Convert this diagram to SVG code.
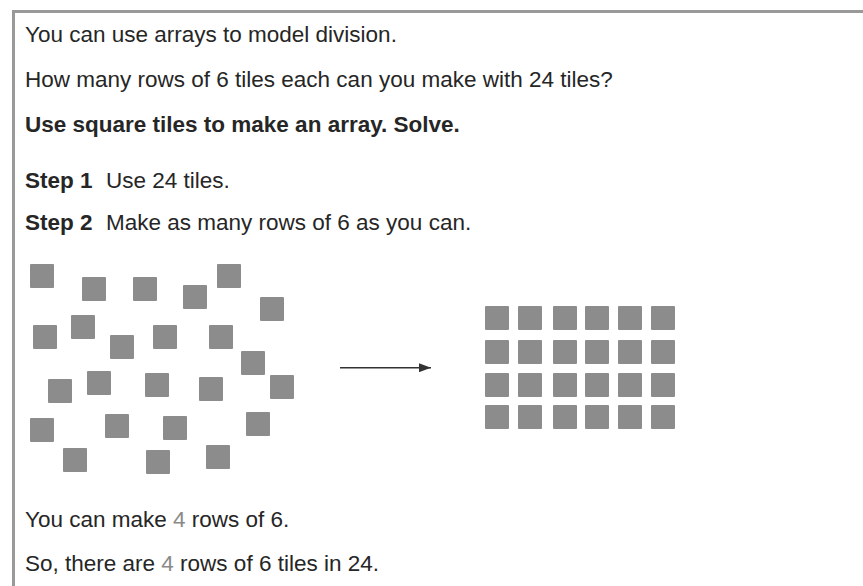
<svg xmlns="http://www.w3.org/2000/svg" width="863" height="586" viewBox="0 0 863 586">
<style>
.t{font-family:"Liberation Sans",Arial,Helvetica,sans-serif;font-size:22.5px;fill:#262626}
.b{font-weight:bold}
.g{fill:#8a8a8a}
.tile{fill:#8c8c8c}
</style>
<defs>
<rect id="tl" width="24" height="24" rx="1" class="tile"/>
<marker id="ah" markerWidth="12" markerHeight="9" refX="12" refY="4.5" orient="auto" markerUnits="userSpaceOnUse">
<path d="M0,0 L12,4.5 L0,9 Z" fill="#333"/>
</marker>
</defs>
<rect width="863" height="586" fill="#fff"/>
<g id="frame" fill="none" stroke="#999" stroke-width="3">
<path d="M13.5,586 V11.5 H863"/>
</g>
<g id="texts">
<text class="t" x="25" y="41.5">You can use arrays to model division.</text>
<text class="t" x="25" y="87">How many rows of 6 tiles each can you make with 24 tiles?</text>
<text class="t b" x="25" y="132">Use square tiles to make an array. Solve.</text>
<text class="t" x="25" y="188"><tspan class="b">Step 1</tspan><tspan x="106">Use 24 tiles.</tspan></text>
<text class="t" x="25" y="230"><tspan class="b">Step 2</tspan><tspan x="106">Make as many rows of 6 as you can.</tspan></text>
<text class="t" x="25" y="527">You can make <tspan class="g">4</tspan> rows of 6.</text>
<text class="t" x="25" y="571">So, there are <tspan class="g">4</tspan> rows of 6 tiles in 24.</text>
</g>
<g id="scattered">
<use href="#tl" x="30" y="264"/>
<use href="#tl" x="82" y="277"/>
<use href="#tl" x="133" y="277"/>
<use href="#tl" x="183" y="285"/>
<use href="#tl" x="217" y="264"/>
<use href="#tl" x="260" y="297"/>
<use href="#tl" x="33" y="325"/>
<use href="#tl" x="71" y="315"/>
<use href="#tl" x="110" y="335"/>
<use href="#tl" x="153" y="325"/>
<use href="#tl" x="209" y="325"/>
<use href="#tl" x="241" y="351"/>
<use href="#tl" x="48" y="379"/>
<use href="#tl" x="87" y="371"/>
<use href="#tl" x="145" y="373"/>
<use href="#tl" x="199" y="377"/>
<use href="#tl" x="270" y="375"/>
<use href="#tl" x="30" y="418"/>
<use href="#tl" x="105" y="414"/>
<use href="#tl" x="163" y="416"/>
<use href="#tl" x="246" y="412"/>
<use href="#tl" x="63" y="448"/>
<use href="#tl" x="146" y="450"/>
<use href="#tl" x="206" y="445"/>
</g>
<g id="array">
<use href="#tl" x="485" y="306"/><use href="#tl" x="518" y="306"/><use href="#tl" x="553" y="306"/><use href="#tl" x="585" y="306"/><use href="#tl" x="618" y="306"/><use href="#tl" x="651" y="306"/>
<use href="#tl" x="485" y="340"/><use href="#tl" x="518" y="340"/><use href="#tl" x="553" y="340"/><use href="#tl" x="585" y="340"/><use href="#tl" x="618" y="340"/><use href="#tl" x="651" y="340"/>
<use href="#tl" x="485" y="373"/><use href="#tl" x="518" y="373"/><use href="#tl" x="553" y="373"/><use href="#tl" x="585" y="373"/><use href="#tl" x="618" y="373"/><use href="#tl" x="651" y="373"/>
<use href="#tl" x="485" y="405"/><use href="#tl" x="518" y="405"/><use href="#tl" x="553" y="405"/><use href="#tl" x="585" y="405"/><use href="#tl" x="618" y="405"/><use href="#tl" x="651" y="405"/>
</g>
<g id="connectors">
<line x1="340" y1="367.7" x2="431" y2="367.7" stroke="#333" stroke-width="1.5" marker-end="url(#ah)"/>
</g>
</svg>
